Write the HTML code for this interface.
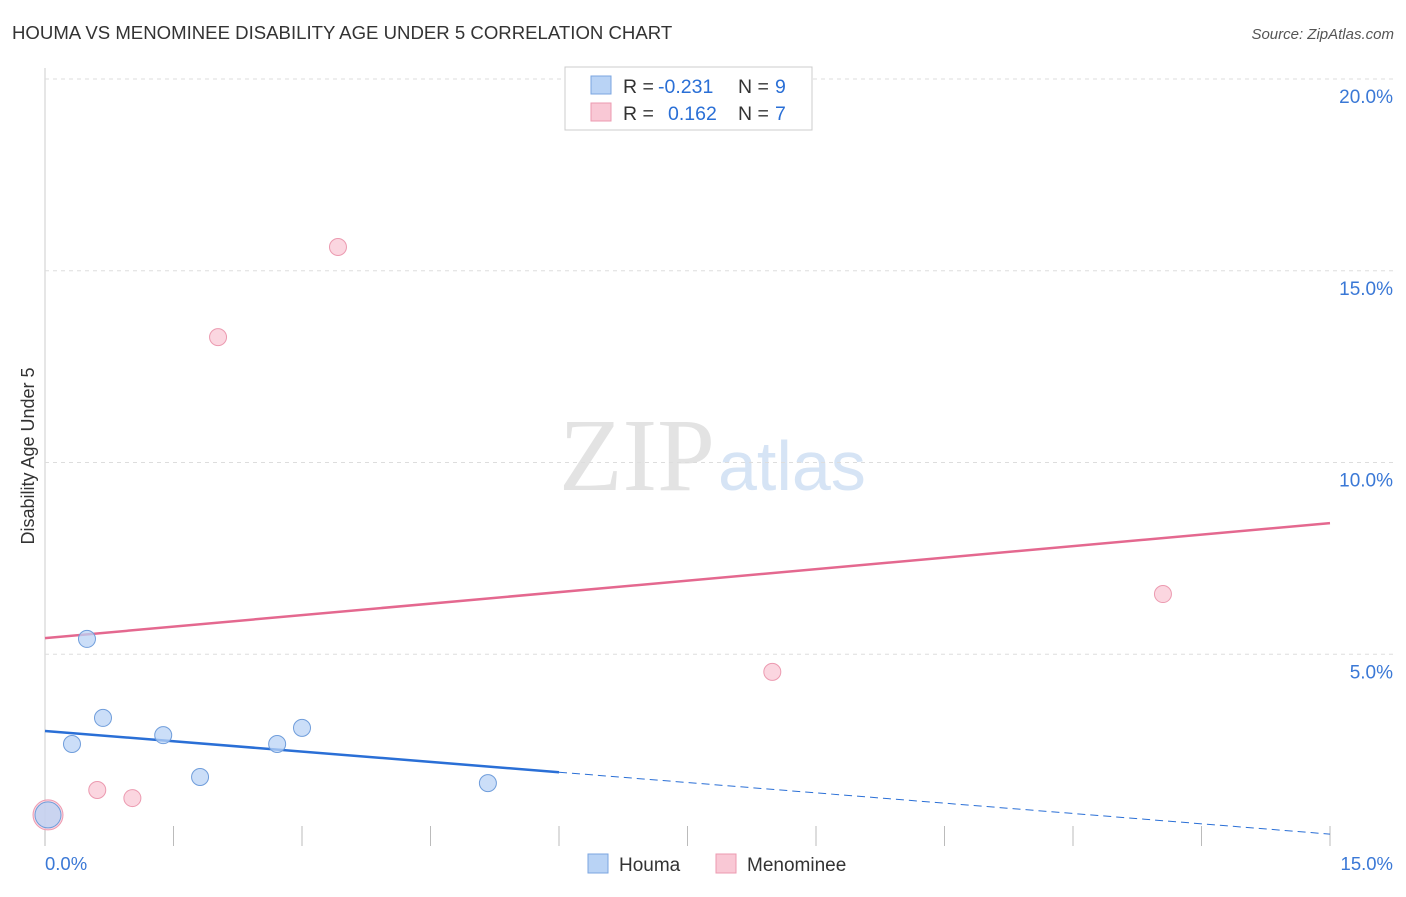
<!DOCTYPE html>
<html><head><meta charset="utf-8"><style>
body{margin:0;background:#fff;font-family:"Liberation Sans",sans-serif;}
</style></head><body>
<svg width="1406" height="892" xmlns="http://www.w3.org/2000/svg" id="chart">
<text x="12" y="39" font-size="18.6" fill="#333">HOUMA VS MENOMINEE DISABILITY AGE UNDER 5 CORRELATION CHART</text>
<text x="1394" y="39" font-size="15" fill="#555" font-style="italic" text-anchor="end">Source: ZipAtlas.com</text>
<text x="0" y="0" transform="translate(34,456) rotate(-90)" font-size="18" fill="#333" text-anchor="middle">Disability Age Under 5</text>
<text x="715" y="490" font-size="104" fill="#e3e3e3" text-anchor="end" font-family="Liberation Serif,serif">ZIP</text>
<text x="718" y="490" font-size="70" fill="#d6e4f5">atlas</text>
<g id="grid"></g><g id="ticks"></g><g id="lines"></g><g id="pts"></g>
<g font-size="19.5">
<rect x="565" y="67" width="247" height="63" fill="#fff" stroke="#ccc"/>
<rect x="591" y="76" width="20" height="18" fill="#b9d3f5" stroke="#7ba6e0"/>
<text x="623" y="93" fill="#333">R =</text>
<text x="658" y="93" fill="#2a6fd6">-0.231</text>
<text x="738" y="93" fill="#333">N =</text>
<text x="775" y="93" fill="#2a6fd6">9</text>
<rect x="591" y="103" width="20" height="18" fill="#f9c8d5" stroke="#ec9ab0"/>
<text x="623" y="120" fill="#333">R =</text>
<text x="668" y="120" fill="#2a6fd6">0.162</text>
<text x="738" y="120" fill="#333">N =</text>
<text x="775" y="120" fill="#2a6fd6">7</text>
</g>
<g>
<rect x="588" y="854" width="20" height="19" fill="#b9d3f5" stroke="#7ba6e0"/>
<text x="619" y="871" font-size="19" fill="#333">Houma</text>
<rect x="716" y="854" width="20" height="19" fill="#f9c8d5" stroke="#ec9ab0"/>
<text x="747" y="871" font-size="19" fill="#333">Menominee</text>
</g>
<text x="45" y="870" font-size="18.5" fill="#3a78d6">0.0%</text>
<text x="1393" y="870" font-size="18.5" fill="#3a78d6" text-anchor="end">15.0%</text>
</svg>
<script>
const yTicks=[5,10,15,20];
const houmaX=[0.035,0.315,0.49,0.677,1.38,1.81,2.71,3.0,5.17];
const houmaY=[0.81,2.66,5.4,3.34,2.89,1.8,2.66,3.08,1.64];
const menX=[0.035,0.61,1.02,2.02,3.42,8.49,13.05];
const menY=[0.81,1.46,1.25,13.27,15.62,4.54,6.57];
const houmaTrend=[3.0,0.31];
const menTrend=[5.42,8.42];
const NS="http://www.w3.org/2000/svg";
const sx=v=>45+v*1285/15, sy=v=>846-v*38.35;
function mk(t,a,p){const e=document.createElementNS(NS,t);for(const k in a)e.setAttribute(k,a[k]);document.getElementById(p).appendChild(e);return e;}
mk('line',{x1:45,y1:68,x2:45,y2:846,stroke:'#ccc'},'grid');
yTicks.forEach(t=>{
 const l=mk('line',{x1:45,y1:sy(t),x2:1394,y2:sy(t),stroke:'#ddd','stroke-dasharray':'4 4'},'grid');
 
 
 const tx=mk('text',{x:1393,y:sy(t)+24,'font-size':19,fill:'#3a78d6','text-anchor':'end'},'grid');
 tx.textContent=t.toFixed(1)+'%';
 
 
});
for(let i=0;i<=10;i++){const x=sx(i*1.5);
 const l=mk('line',{x1:x,y1:826,x2:x,y2:846,stroke:'#bbb'},'ticks');
 
 }
let l1=mk('line',{x1:sx(0),y1:sy(houmaTrend[0]),x2:sx(6),y2:sy(houmaTrend[0]+(houmaTrend[1]-houmaTrend[0])*6/15),stroke:'#2a6fd6','stroke-width':2.5},'lines');


let l2=mk('line',{x1:sx(6),y1:sy(houmaTrend[0]+(houmaTrend[1]-houmaTrend[0])*6/15),x2:sx(15),y2:sy(houmaTrend[1]),stroke:'#2a6fd6','stroke-width':1,'stroke-dasharray':'8 5'},'lines');


let l3=mk('line',{x1:sx(0),y1:sy(menTrend[0]),x2:sx(15),y2:sy(menTrend[1]),stroke:'#e4688f','stroke-width':2.5},'lines');


menX.forEach((x,i)=>{const c=mk('circle',{cx:sx(x),cy:sy(menY[i]),r:i==0?15:8.5,fill:'#f9c8d5','fill-opacity':0.75,stroke:'#ec9ab0'},'pts');
 
 });
houmaX.forEach((x,i)=>{const c=mk('circle',{cx:sx(x),cy:sy(houmaY[i]),r:i==0?13:8.5,fill:'#b9d3f5','fill-opacity':0.75,stroke:'#6f9ddb'},'pts');
 
 });
</script>
</body></html>
